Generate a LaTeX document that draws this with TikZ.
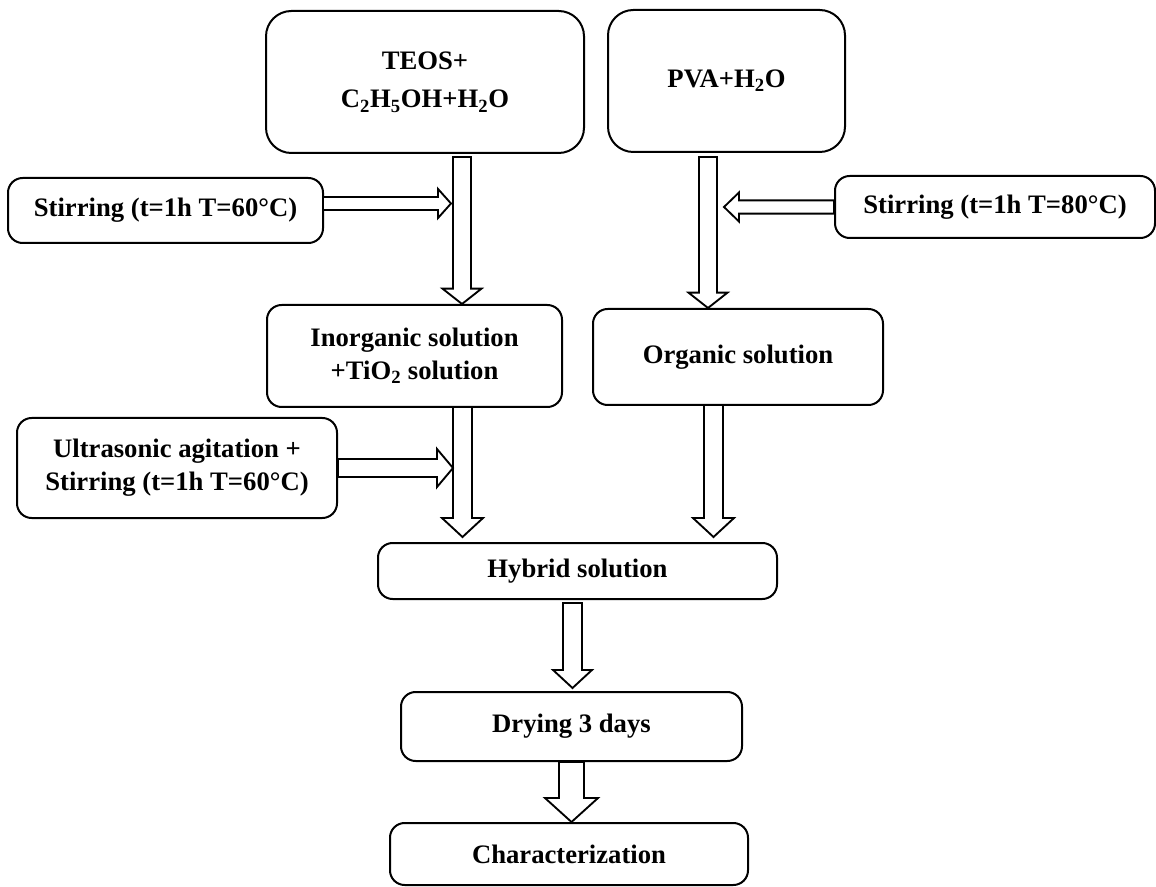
\documentclass[tikz,border=0pt]{standalone}
\usepackage{fontspec}
\setmainfont{Liberation Serif}
\usetikzlibrary{positioning, calc}

\tikzset{
    stage/.style = {
        rectangle, draw, line width = 1.5pt,
        rounded corners = 11pt,
        align = center, inner sep = 0pt,
        font = \fontsize{20}{25}\selectfont\bfseries
    },
    bigstage/.style = {stage, rounded corners = 19pt}
}

% hollow block arrow: shaft half width, head half width, head length, from, to
\newcommand{\blockarrow}[5]{
    \coordinate (ba-s) at (#4);
    \coordinate (ba-e) at (#5);
    \coordinate (ba-h) at ($(ba-e)!#3!(ba-s)$);
    \draw[line width = 1.4pt, fill = white, line join = miter]
        ($(ba-s)!#1!90:(ba-e)$) -- ($(ba-h)!#1!-90:(ba-s)$)
        -- ($(ba-h)!#2!-90:(ba-s)$) -- (ba-e)
        -- ($(ba-h)!#2!90:(ba-s)$) -- ($(ba-h)!#1!90:(ba-s)$)
        -- ($(ba-s)!#1!-90:(ba-e)$) -- cycle;
}

\begin{document}
\begin{tikzpicture}[x = 0.75pt, y = -0.75pt]

\useasboundingbox (0,0) rectangle (1156,887);

\node [bigstage, minimum width = 238.5pt, minimum height = 106.5pt] (teos) at (425,82) {
    TEOS+\\[4pt]
    C\textsubscript{2}H\textsubscript{5}OH+H\textsubscript{2}O
};
\node [bigstage, minimum width = 177.75pt, minimum height = 106.5pt] (pva) at (726.5,81) {PVA+H\textsubscript{2}O};

\node [stage, minimum width = 236.25pt, minimum height = 48.75pt] (stirL) at (165.5,210.5) {Stirring (t=1h T=60°C)};
\node [stage, minimum width = 240pt, minimum height = 46.5pt] (stirR) at (995,207) {Stirring (t=1h T=80°C)};

\node [stage, minimum width = 221.25pt, minimum height = 76.5pt] (inorg) at (414.5,356) {
    Inorganic solution\\
    +TiO\textsubscript{2} solution
};
\node [stage, minimum width = 217.5pt, minimum height = 72pt] (org) at (738,357) {Organic solution};

\node [stage, minimum width = 240pt, minimum height = 75pt] (ultra) at (177,468) {
    Ultrasonic agitation +\\
    Stirring (t=1h T=60°C)
};

\node [stage, minimum width = 299.25pt, minimum height = 42pt] (hybrid) at (577.5,571) {Hybrid solution};
\node [stage, minimum width = 255.75pt, minimum height = 51.75pt] (drying) at (571.5,726.5) {Drying 3 days};
\node [stage, minimum width = 268.5pt, minimum height = 46.5pt] (charact) at (569,854) {Characterization};

% arrow ends
\coordinate (a1) at (462,157);
\coordinate (a2) at (708,157);
\coordinate (a3) at (323,203.5);
\coordinate (a3e) at (451,203.5);
\coordinate (a4e) at (724,207);
\coordinate (a5) at (462.5,407);
\coordinate (a6) at (713.5,405);
\coordinate (a7e) at (453,468);
\coordinate (a8) at (572.5,603);

\blockarrow{6.75pt}{14.6pt}{11.5pt}{a1}{a1 |- inorg.north}
\blockarrow{6.75pt}{14.6pt}{11.5pt}{a2}{a2 |- org.north}
\blockarrow{4.9pt}{10.9pt}{9.75pt}{a3}{a3e}
\blockarrow{5pt}{10.9pt}{11.25pt}{stirR.west}{a4e}
\blockarrow{7.1pt}{15.4pt}{14.25pt}{a5}{$(a5 |- hybrid.north)+(0,-5)$}
\blockarrow{7.1pt}{15.4pt}{14.25pt}{a6}{$(a6 |- hybrid.north)+(0,-5)$}
\blockarrow{6.75pt}{14.25pt}{12pt}{ultra.east}{a7e}
\blockarrow{7.1pt}{14.6pt}{13.5pt}{a8}{$(a8 |- drying.north)+(0,-3)$}
\blockarrow{9.4pt}{19.9pt}{18pt}{drying.south}{drying.south |- charact.north}

\end{tikzpicture}
\end{document}
